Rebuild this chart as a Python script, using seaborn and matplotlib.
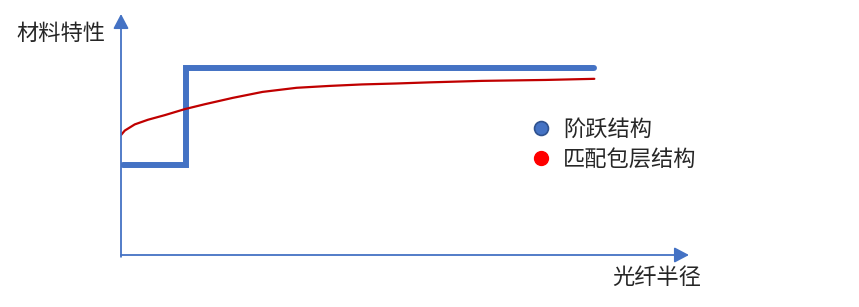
import matplotlib
matplotlib.use("Agg")
import matplotlib.pyplot as plt
from matplotlib.lines import Line2D
import seaborn as sns
import pandas as pd

# Data
step_x = [0.05, 1.37, 1.37, 10.0]
step_y = [4.8, 4.8, 10.0, 10.0]
curve_x = [0.0, 0.08, 0.29, 0.57, 0.93, 1.35, 1.77, 2.36, 2.99, 3.71, 4.40,
           5.09, 5.81, 6.51, 7.62, 8.97, 10.0]
curve_y = [6.42, 6.66, 6.99, 7.24, 7.49, 7.81, 8.07, 8.41, 8.73, 8.95, 9.05,
           9.13, 9.18, 9.24, 9.32, 9.37, 9.43]
series_labels = ["阶跃结构", "匹配包层结构"]
x_label = "光纤半径"
y_label = "材料特性"

sns.set_style("white")
plt.rcParams['font.family'] = ['Noto Sans CJK SC', 'DejaVu Sans']

W, H = 859, 307
fig = plt.figure(figsize=(W / 100, H / 100), dpi=100)
x0, y0 = 121, 255
ax_w_px = 568
ax_h_px = 241
ax = fig.add_axes([x0 / W, (H - y0) / H, ax_w_px / W, ax_h_px / H])
ax.set_xlim(0, 12)
ax.set_ylim(0, 12.9)
ax.axis("off")

blue = "#4472C4"
red = "#C00000"

df_step = pd.DataFrame({"x": step_x, "y": step_y})
df_curve = pd.DataFrame({"x": curve_x, "y": curve_y})
sns.lineplot(data=df_step, x="x", y="y", sort=False, color=blue, linewidth=4.3,
             ax=ax, estimator=None, solid_joinstyle="miter")
sns.lineplot(data=df_curve, x="x", y="y", sort=False, color=red, linewidth=1.6,
             ax=ax, estimator=None, solid_joinstyle="round")

# Axis arrows
arrow_kw = dict(arrowstyle="-|>,head_length=0.55,head_width=0.29", color=blue,
                lw=1.3, shrinkA=0, shrinkB=0, mutation_scale=16)
ax.annotate("", xy=(12, 0), xytext=(0, 0), arrowprops=arrow_kw,
            annotation_clip=False)
ax.annotate("", xy=(0, 12.9), xytext=(0, -0.1), arrowprops=arrow_kw,
            annotation_clip=False)

# Axis labels
fig.text(16 / W, 1 - 33 / H, y_label, fontsize=16, fontweight="medium",
         ha="left", va="center")
fig.text(612 / W, 1 - 277 / H, x_label, fontsize=16, fontweight="medium",
         ha="left", va="center")

# Legend
handles = [
    Line2D([], [], marker="o", linestyle="none", markersize=10,
           markerfacecolor="#4472C4", markeredgecolor="#2F528F", markeredgewidth=1.2),
    Line2D([], [], marker="o", linestyle="none", markersize=10,
           markerfacecolor="#FF0000", markeredgecolor="#FF0000"),
]
fig.legend(handles, series_labels, loc="upper left",
           bbox_to_anchor=(532 / W, 1 - 118 / H), frameon=False,
           prop={"size": 16, "weight": "medium"},
           handlelength=0.8, handletextpad=0.6, labelspacing=0.3,
           borderpad=0, borderaxespad=0)

fig.savefig("out.png", dpi=100)
